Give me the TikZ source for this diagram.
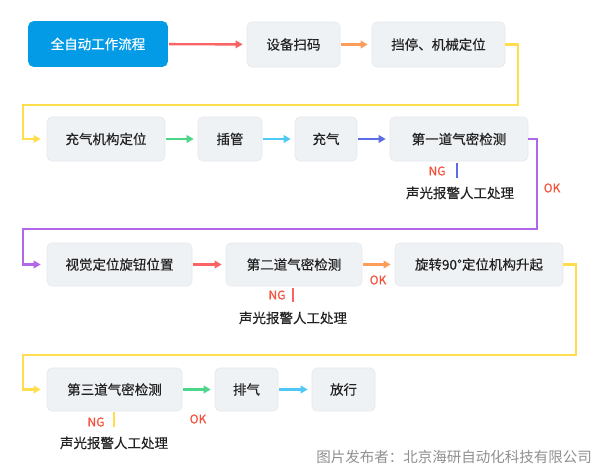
\documentclass[tikz,border=0pt]{standalone}
\usepackage{fontspec}
\setmainfont{Noto Sans CJK SC}
\newfontfamily\boxfont{Noto Sans CJK SC}[FakeBold=0.35]
\usetikzlibrary{arrows.meta}
\definecolor{cblue}{HTML}{039BE5}
\definecolor{boxfill}{HTML}{EFF2F5}
\definecolor{boxline}{HTML}{E4E8ED}
\definecolor{cred}{HTML}{FA6464}
\definecolor{corange}{HTML}{FF9D5C}
\definecolor{cyellow}{HTML}{FFDD4D}
\definecolor{cgreen}{HTML}{4CD68A}
\definecolor{ccyan}{HTML}{4FC8F5}
\definecolor{cindigo}{HTML}{5B6EE6}
\definecolor{cpurple}{HTML}{B266E8}
\definecolor{cok}{HTML}{F5503C}
\definecolor{ctext}{HTML}{222222}
\definecolor{cmark}{HTML}{909090}
\tikzset{
  stepbox/.style={rounded corners=5pt, fill=boxfill, draw=boxline, line width=0.6pt,
    text=ctext, font=\boxfont\fontsize{13.5}{16}\selectfont, inner sep=0pt},
  startbox/.style={stepbox, fill=cblue, draw=cblue, text=white},
  flow/.style={line width=2.4pt, -{Triangle[length=7pt,width=7.5pt]}, shorten >=4pt, shorten <=1pt},
  elbow/.style={line width=2.4pt, -{Triangle[length=7pt,width=7.5pt]}, shorten >=6pt},
  ngline/.style={line width=2.6pt},
  tag/.style={text=cok, font=\boxfont\fontsize{12}{14}\selectfont, inner sep=0pt},
  note/.style={text=ctext, font=\boxfont\fontsize{13.5}{16}\selectfont, inner sep=0pt}
}
\begin{document}
\begin{tikzpicture}[x=1pt,y=-1pt]
\useasboundingbox[fill=white] (0,0) rectangle (600,471);
% row 1
\node[startbox, minimum width=139pt, minimum height=45pt] (start) at (98,44) {全自动工作流程};
\node[stepbox, minimum width=93pt, minimum height=45pt] (scan) at (293.5,44.5) {设备扫码};
\node[stepbox, minimum width=133pt, minimum height=45pt] (stop) at (438.5,44.5) {挡停、机械定位};
% row 2
\node[stepbox, minimum width=118pt, minimum height=44pt] (pos) at (106,139) {充气机构定位};
\node[stepbox, minimum width=64pt, minimum height=44pt] (ins) at (230,139) {插管};
\node[stepbox, minimum width=62pt, minimum height=44pt] (inf) at (326,139) {充气};
\node[stepbox, minimum width=138pt, minimum height=44pt] (t1) at (459,139) {第一道气密检测};
% row 3
\node[stepbox, minimum width=145pt, minimum height=43pt] (vis) at (119.5,264.5) {视觉定位旋钮位置};
\node[stepbox, minimum width=136pt, minimum height=43pt] (t2) at (294,264.5) {第二道气密检测};
\node[stepbox, minimum width=168pt, minimum height=43pt] (rot) at (479,264.5) {旋转90°定位机构升起};
% row 4
\node[stepbox, minimum width=135pt, minimum height=43pt] (t3) at (114.5,389.5) {第三道气密检测};
\node[stepbox, minimum width=63pt, minimum height=43pt] (exh) at (246.5,389.5) {排气};
\node[stepbox, minimum width=63pt, minimum height=43pt] (rel) at (343.5,389.5) {放行};
% straight arrows
\draw[flow, cred] (start) -- (scan);
\draw[flow, corange] (scan) -- (stop);
\draw[flow, cgreen] (pos) -- (ins);
\draw[flow, ccyan] (ins) -- (inf);
\draw[flow, cindigo] (inf) -- (t1);
\draw[flow, cred] (vis) -- (t2);
\draw[flow, corange] (t2) -- (rot);
\draw[flow, cgreen] (t3) -- (exh);
\draw[flow, ccyan] (exh) -- (rel);
% elbow connectors
\coordinate (y1a) at (518,44.5);
\coordinate (y1b) at (518,105);
\coordinate (y1c) at (23,105);
\coordinate (y1d) at (23,139);
\draw[elbow, cyellow] (stop.east) -- (y1a) -- (y1b) -- (y1c) -- (y1d) -- (pos.west);
\coordinate (p1a) at (537,139);
\coordinate (p1b) at (537,229);
\coordinate (p1c) at (23,229);
\coordinate (p1d) at (23,264.5);
\draw[elbow, cpurple] (t1.east) -- (p1a) -- (p1b) -- (p1c) -- (p1d) -- (vis.west);
\coordinate (y2a) at (576,264.5);
\coordinate (y2b) at (576,355);
\coordinate (y2c) at (23,355);
\coordinate (y2d) at (23,389.5);
\draw[elbow, cyellow] (rot.east) -- (y2a) -- (y2b) -- (y2c) -- (y2d) -- (t3.west);
% NG branches
\coordinate (n1a) at (457,163);
\coordinate (n1b) at (457,178);
\draw[ngline, cindigo] (n1a) -- (n1b);
\node[tag] (ng1) at (437,171) {NG};
\node[note] (al1) at (460,193) {声光报警人工处理};
\node[tag] (ok1) at (552,188) {OK};
\coordinate (n2a) at (293,288);
\coordinate (n2b) at (293,302);
\draw[ngline, cred] (n2a) -- (n2b);
\node[tag] (ng2) at (277,295) {NG};
\node[note] (al2) at (293,318) {声光报警人工处理};
\node[tag] (ok2) at (378,280) {OK};
\coordinate (n3a) at (114,412);
\coordinate (n3b) at (114,427);
\draw[ngline, cyellow] (n3a) -- (n3b);
\node[tag] (ng3) at (96,422) {NG};
\node[note] (al3) at (114,443) {声光报警人工处理};
\node[tag] (ok3) at (198,419) {OK};
% watermark
\node[anchor=east, text=cmark, font=\fontsize{14.5}{17}\selectfont, inner sep=0pt] (mark) at (592,457) {图片发布者：北京海研自动化科技有限公司};
\end{tikzpicture}
\end{document}
